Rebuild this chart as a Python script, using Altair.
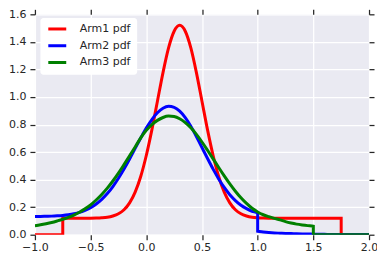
import altair as alt
import pandas as pd

arm_names = ["Arm1 pdf", "Arm2 pdf", "Arm3 pdf"]
arm_colors = ["#ff0000", "#0000ff", "#008000"]

x_ticks = [-1.0, -0.5, 0.0, 0.5, 1.0, 1.5, 2.0]
y_ticks = [0.0, 0.2, 0.4, 0.6, 0.8, 1.0, 1.2, 1.4, 1.6]

arm1_x = [-1.0, -0.95, -0.9, -0.85, -0.8, -0.75, -0.75, -0.7, -0.65, -0.6, -0.55, -0.5,
          -0.45, -0.4, -0.35, -0.3, -0.25, -0.2, -0.15, -0.1, -0.05, 0.0, 0.05, 0.1,
          0.15, 0.2, 0.25, 0.3, 0.35, 0.4, 0.45, 0.5, 0.55, 0.6, 0.65, 0.7, 0.75, 0.8,
          0.85, 0.9, 0.95, 1.0, 1.05, 1.1, 1.15, 1.2, 1.25, 1.3, 1.35, 1.4, 1.45, 1.5,
          1.55, 1.6, 1.65, 1.7, 1.75, 1.75, 1.8, 1.85, 1.9, 1.95, 2.0]
arm1_y = [0, 0, 0, 0, 0, 0, 0.12, 0.12, 0.12, 0.12, 0.12, 0.12,
          0.121, 0.123, 0.127, 0.136, 0.152, 0.181, 0.231, 0.309, 0.423, 0.575, 0.761, 0.969,
          1.177, 1.356, 1.477, 1.52, 1.477, 1.356, 1.177, 0.969, 0.761, 0.575, 0.423, 0.309, 0.231, 0.181,
          0.152, 0.136, 0.127, 0.123, 0.121, 0.12, 0.12, 0.12, 0.12, 0.12, 0.12, 0.12, 0.12, 0.12,
          0.12, 0.12, 0.12, 0.12, 0.12, 0, 0, 0, 0, 0, 0]

arm2_x = [-1.0, -0.95, -0.9, -0.85, -0.8, -0.75, -0.7, -0.65, -0.6, -0.55, -0.5,
          -0.45, -0.4, -0.35, -0.3, -0.25, -0.2, -0.15, -0.1, -0.05, 0.0, 0.05, 0.1,
          0.15, 0.2, 0.25, 0.3, 0.35, 0.4, 0.45, 0.5, 0.55, 0.6, 0.65, 0.7, 0.75, 0.8,
          0.85, 0.9, 0.95, 1.0, 1.0, 1.05, 1.1, 1.15, 1.2, 1.25, 1.3, 1.35, 1.4, 1.45, 1.5,
          1.55, 1.6, 1.65, 1.7, 1.75, 1.8, 1.85, 1.9, 1.95, 2.0]
arm2_y = [0.133, 0.133, 0.134, 0.135, 0.137, 0.140, 0.145, 0.152, 0.162, 0.177, 0.196,
          0.223, 0.257, 0.299, 0.350, 0.410, 0.477, 0.550, 0.627, 0.702, 0.774, 0.836, 0.885,
          0.918, 0.932, 0.925, 0.897, 0.850, 0.787, 0.713, 0.633, 0.553, 0.476, 0.405, 0.343, 0.290, 0.248,
          0.214, 0.189, 0.170, 0.157, 0.025, 0.020, 0.016, 0.013, 0.011, 0.009, 0.008, 0.007, 0.006, 0.005, 0.004,
          0.003, 0.003, 0.002, 0.002, 0.002, 0.001, 0.001, 0.001, 0.001, 0.001]

arm3_x = [-1.0, -0.95, -0.9, -0.85, -0.8, -0.75, -0.7, -0.65, -0.6, -0.55, -0.5,
          -0.45, -0.4, -0.35, -0.3, -0.25, -0.2, -0.15, -0.1, -0.05, 0.0, 0.05, 0.1,
          0.15, 0.2, 0.25, 0.3, 0.35, 0.4, 0.45, 0.5, 0.55, 0.6, 0.65, 0.7, 0.75, 0.8,
          0.85, 0.9, 0.95, 1.0, 1.05, 1.1, 1.15, 1.2, 1.25, 1.3, 1.35, 1.4, 1.45, 1.5, 1.5,
          1.55, 1.6, 1.65, 1.7, 1.75, 1.8, 1.85, 1.9, 1.95, 2.0]
arm3_y = [0.065, 0.072, 0.080, 0.089, 0.100, 0.112, 0.126, 0.143, 0.163, 0.188, 0.217,
          0.252, 0.292, 0.338, 0.390, 0.447, 0.509, 0.572, 0.637, 0.703, 0.758, 0.800, 0.830,
          0.851, 0.861, 0.858, 0.842, 0.814, 0.776, 0.728, 0.673, 0.613, 0.551, 0.488, 0.427, 0.369, 0.316,
          0.268, 0.227, 0.192, 0.165, 0.145, 0.131, 0.119, 0.108, 0.095, 0.085, 0.077, 0.071, 0.066, 0.062, 0,
          0, 0, 0, 0, 0, 0, 0, 0, 0, 0]

series = [(arm_names[0], arm1_x, arm1_y), (arm_names[1], arm2_x, arm2_y), (arm_names[2], arm3_x, arm3_y)]
rows = []
for name, xs_, ys_ in series:
    assert len(xs_) == len(ys_), name
    for i, (xv, yv) in enumerate(zip(xs_, ys_)):
        rows.append({"arm": name, "x": xv, "y": yv, "i": i})
df = pd.DataFrame(rows)

FONT = "DejaVu Sans"
TXT = "#262626"

x_scale = alt.Scale(domain=[-1.0, 2.0], nice=False, zero=False)
y_scale = alt.Scale(domain=[0.0, 1.6], nice=False, zero=False)

common_axis = dict(domain=False, ticks=True, tickSize=5, tickWidth=1.25, tickColor=TXT,
                   labelFont=FONT, labelFontSize=11, labelColor=TXT, title=None, format=".1f",
                   labelFlush=False, labelOverlap=False)

x_bottom = alt.Axis(orient="bottom", values=x_ticks, grid=True, gridColor="white", gridWidth=1.25,
                    labelPadding=2, **common_axis)
y_left = alt.Axis(orient="left", values=y_ticks, grid=True, gridColor="white", gridWidth=1.25,
                  labelPadding=4, **common_axis)
x_top = alt.Axis(orient="top", values=x_ticks, grid=False, labels=False, domain=False, ticks=True,
                 tickSize=5, tickWidth=1.25, tickColor=TXT, title=None)
y_right = alt.Axis(orient="right", values=y_ticks, grid=False, labels=False, domain=False, ticks=True,
                   tickSize=5, tickWidth=1.25, tickColor=TXT, title=None)

color = alt.Color("arm:N", scale=alt.Scale(domain=arm_names, range=arm_colors),
                  legend=alt.Legend(orient="none", legendX=5, legendY=3.2, title=None))


def line_layer(name):
    return alt.Chart(df).transform_filter(alt.datum.arm == name).mark_line(
        strokeWidth=3, interpolate="monotone", clip=True
    ).encode(
        x=alt.X("x:Q", scale=x_scale, axis=x_bottom),
        y=alt.Y("y:Q", scale=y_scale, axis=y_left),
        color=color,
        order=alt.Order("i:Q"),
    )


lines = alt.layer(*[line_layer(n) for n in arm_names])

frame = alt.Chart(df).mark_line(opacity=0, clip=True).encode(
    x=alt.X("x:Q", scale=x_scale, axis=x_top),
    y=alt.Y("y:Q", scale=y_scale, axis=y_right),
    detail="arm:N",
    order=alt.Order("i:Q"),
)

chart = alt.layer(lines, frame).resolve_axis(
    x="independent", y="independent"
).properties(
    width=335, height=221,
    autosize=alt.AutoSizeParams(type="none"),
    padding={"left": 27, "top": 6, "right": 8, "bottom": 20},
    background="white",
).configure_view(
    fill="#EAEAF2", stroke=None
).configure_legend(
    symbolType="M-2,0L2,0", symbolSize=81, symbolStrokeWidth=3,
    labelFont=FONT, labelFontSize=11, labelColor=TXT,
    padding=5.5, rowPadding=4.8, symbolOffset=5.9, labelOffset=16.5,
    fillColor="#ffffff", cornerRadius=3, strokeColor="transparent",
)

chart.save("out.html", embed_options={"renderer": "svg", "actions": False})
